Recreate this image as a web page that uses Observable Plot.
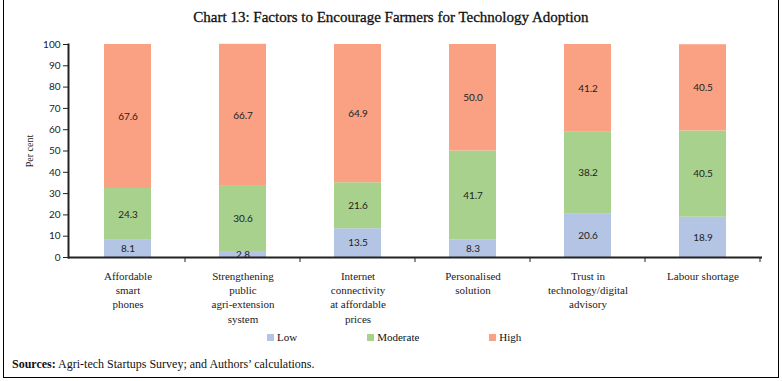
<!DOCTYPE html>
<html><head><meta charset="utf-8">
<script src="https://cdn.jsdelivr.net/npm/d3@7"></script>
<script src="https://cdn.jsdelivr.net/npm/@observablehq/plot@0.6"></script>
<style>
body{margin:0;background:#fff;width:782px;height:381px;position:relative;overflow:hidden;font-family:"Liberation Serif",serif;color:#111;}
#frame{position:absolute;left:3px;top:0;width:774px;height:377px;border:1px solid #000;border-top:none;}
#title{position:absolute;left:0;width:782px;top:8px;text-align:center;font-size:15px;line-height:18px;font-weight:normal;color:#111;-webkit-text-stroke:0.3px #111;}
#chart{position:absolute;left:0;top:30px;}
#legend{position:absolute;left:267px;top:331px;display:flex;gap:70px;font-size:11px;line-height:13px;}
#legend .item{display:flex;align-items:center;}
#legend .sw{width:7px;height:7px;margin-right:3px;display:inline-block;}
#sources{position:absolute;left:12px;top:357px;font-size:12px;line-height:14px;}
#chart g[aria-label="x-axis tick label"]{font-family:"Liberation Serif",serif;font-size:11px;}
#chart g[aria-label="y-axis label"]{font-family:"Liberation Serif",serif;font-size:10px;}
#chart g[aria-label="y-axis tick label"]{font-family:Lato,sans-serif;font-size:10px;}
</style></head>
<body>
<div id="frame"></div>
<div id="title">Chart 13: Factors to Encourage Farmers for Technology Adoption</div>
<div id="chart"></div>
<div id="legend"></div>
<div id="sources"><b>Sources:</b> Agri-tech Startups Survey; and Authors’ calculations.</div>
<script>
const categories = ["Affordable smart phones","Strengthening public agri-extension system","Internet connectivity at affordable prices","Personalised solution","Trust in technology/digital advisory","Labour shortage"];
const tickLabels = ["Affordable\nsmart\nphones","Strengthening\npublic\nagri-extension\nsystem","Internet\nconnectivity\nat affordable\nprices","Personalised\nsolution","Trust in\ntechnology/digital\nadvisory","Labour shortage"];
const series = ["Low","Moderate","High"];
const low = [8.1,2.8,13.5,8.3,20.6,18.9];
const moderate = [24.3,30.6,21.6,41.7,38.2,40.5];
const high = [67.6,66.7,64.9,50.0,41.2,40.5];
const colors = ["#b4c4e4","#a9d18e","#f9a182"];
const yTicks = [0,10,20,30,40,50,60,70,80,90,100];

const values = [low, moderate, high];
const data = series.flatMap((s, si) => categories.map((c, ci) => ({category: c, series: s, value: values[si][ci]})));

const plot = Plot.plot({
  width: 782, height: 297,
  marginTop: 14, marginBottom: 70, marginLeft: 68, marginRight: 20,
  style: {fontFamily: "Lato, sans-serif", fontSize: "10px", color: "#222"},
  x: {domain: categories, paddingInner: 0.59, paddingOuter: 0.295},
  y: {domain: [0, 100]},
  color: {domain: series, range: colors},
  marks: [
    Plot.barY(data, {x: "category", y: "value", fill: "series"}),
    Plot.text(data, Plot.stackY({x: "category", y: "value", z: "series", text: d => d.value.toFixed(1), fill: "#222", fontSize: 10, fontFamily: "Lato, sans-serif"})),
    Plot.axisY({ticks: yTicks, tickSize: 5, tickPadding: 3, label: "Per cent", labelAnchor: "center", labelOffset: 43, labelArrow: "none", stroke: "#222"}),
    Plot.axisX({tickSize: 0, tickPadding: 12, tickFormat: d => tickLabels[categories.indexOf(d)], lineHeight: 1.3, label: null}),
    Plot.frame({anchor: "left", stroke: "#222", strokeWidth: 2}),
    Plot.ruleY([0], {stroke: "#222", strokeWidth: 2})
  ]
});
document.getElementById("chart").appendChild(plot);

// band-boundary ticks on x axis, from the plot's own x scale
const xs = plot.scale("x");
const ys = plot.scale("y");
const gap = xs.step - xs.bandwidth;
const y0 = ys.apply(0);
const g = d3.select(plot).append("g").attr("stroke", "#222");
categories.forEach(c => {
  const px = xs.apply(c) + xs.bandwidth + gap / 2;
  g.append("line").attr("x1", px).attr("x2", px).attr("y1", y0).attr("y2", y0 + 5);
});

const legend = d3.select("#legend");
series.forEach((s, i) => {
  const it = legend.append("div").attr("class", "item");
  it.append("span").attr("class", "sw").style("background", colors[i]);
  it.append("span").text(s);
});
</script>
</body></html>
